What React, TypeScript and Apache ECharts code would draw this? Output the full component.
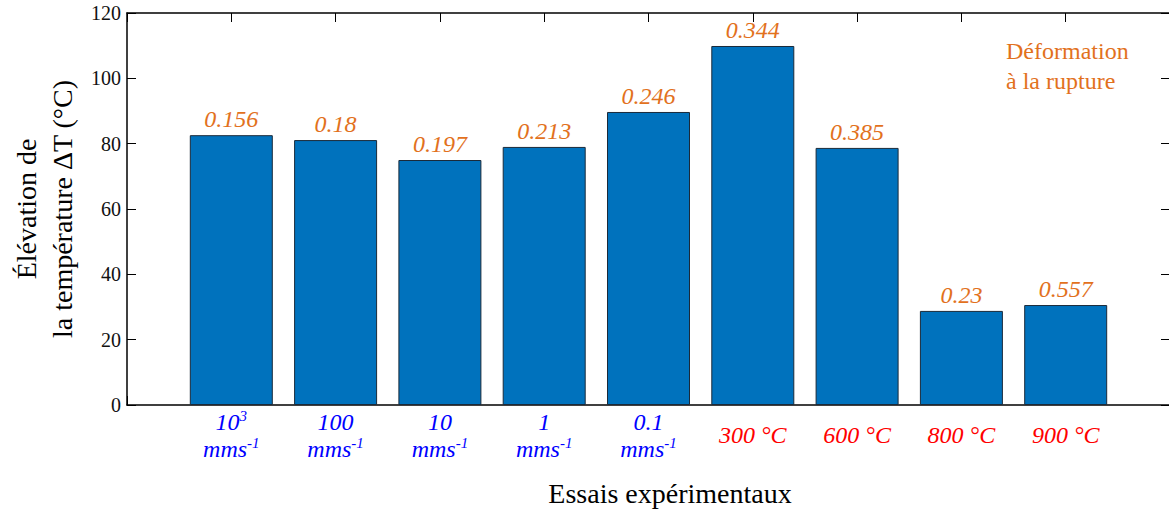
import React, { useEffect, useRef } from "react";
import * as echarts from "echarts";

const positions = [1, 2, 3, 4, 5, 6, 7, 8, 9];
const deltaT = [82.6, 81.1, 75.0, 79.0, 89.7, 109.9, 78.7, 28.8, 30.6];
const strainAtRupture = ["0.156", "0.18", "0.197", "0.213", "0.246", "0.344", "0.385", "0.23", "0.557"];
const speedLabels = ["10", "100", "10", "1", "0.1"];
const speedExponent = ["3", "", "", "", ""];
const tempLabels = ["300 °C", "600 °C", "800 °C", "900 °C"];
const yTicks = { min: 0, max: 120, interval: 20 };

const FONT = "Liberation Serif";
const ORANGE = "#E2711D";

const boxAxis = {
  splitLine: { show: false },
  axisLine: { show: true, onZero: false, lineStyle: { color: "#000", width: 1.5 } },
  axisTick: { show: true, inside: true, length: 9, lineStyle: { color: "#000" } },
};

export default function App() {
  const ref = useRef<HTMLDivElement>(null);
  useEffect(() => {
    document.body.style.margin = "0";
    const chart = echarts.init(ref.current!, null, { renderer: "svg" });
    const xLabel = (v: number) => {
      const i = Math.round(v) - 1;
      if (i < 0 || i > 8) return "";
      if (i < speedLabels.length) {
        const top = speedExponent[i]
          ? `{b|${speedLabels[i]}}{bs|${speedExponent[i]}}`
          : `{b|${speedLabels[i]}}`;
        return `${top}\n{b|mms}{bs|-1}`;
      }
      return `{r|${tempLabels[i - speedLabels.length]}}`;
    };
    chart.setOption({
      animation: false,
      textStyle: { fontFamily: FONT },
      grid: { left: 127, right: -1, top: 13, bottom: 111, containLabel: false, outerBoundsMode: "none" },
      xAxis: [
        {
          type: "value",
          min: 0,
          max: 10,
          interval: 1,
          position: "bottom",
          ...boxAxis,
          axisLabel: {
            formatter: xLabel,
            margin: 30,
            verticalAlign: "middle",
            rich: {
              b: { color: "#0000FF", fontStyle: "italic", fontSize: 24, fontFamily: FONT, lineHeight: 27 },
              bs: { color: "#0000FF", fontStyle: "italic", fontSize: 15, fontFamily: FONT, verticalAlign: "top", lineHeight: 27 },
              r: { color: "#FF0000", fontStyle: "italic", fontSize: 24, fontFamily: FONT, lineHeight: 27 },
            },
          },
        },
        {
          type: "value",
          min: 0,
          max: 10,
          interval: 1,
          position: "top",
          ...boxAxis,
          axisLabel: { show: false },
        },
      ],
      yAxis: [
        {
          type: "value",
          min: yTicks.min,
          max: yTicks.max,
          interval: yTicks.interval,
          position: "left",
          ...boxAxis,
          axisLabel: { color: "#111", fontSize: 20, fontFamily: FONT, margin: 6 },
          name: "Élévation de\nla température ΔT (°C)",
          nameLocation: "middle",
          nameRotate: 90,
          nameGap: 43,
          nameTextStyle: { color: "#000", fontSize: 28, fontFamily: FONT, lineHeight: 36 },
        },
        {
          type: "value",
          min: yTicks.min,
          max: yTicks.max,
          interval: yTicks.interval,
          position: "right",
          ...boxAxis,
          axisLabel: { show: false },
        },
      ],
      series: [
        {
          type: "bar",
          xAxisIndex: 0,
          yAxisIndex: 0,
          barWidth: 83,
          data: positions.map((p, i) => [p, deltaT[i]]),
          itemStyle: { color: "#0072BD", borderColor: "#1a2a3a", borderWidth: 1 },
          label: {
            show: true,
            position: "top",
            distance: 4,
            formatter: (p: any) => strainAtRupture[p.dataIndex],
            color: ORANGE,
            fontStyle: "italic",
            fontSize: 24,
            fontFamily: FONT,
          },
        },
      ],
      graphic: [
        {
          type: "text",
          left: 1006,
          top: 36,
          style: {
            text: "Déformation\nà la rupture",
            fill: ORANGE,
            fontSize: 24,
            fontFamily: FONT,
            lineHeight: 30,
          },
        },
        {
          type: "text",
          x: 670,
          y: 493,
          style: {
            text: "Essais expérimentaux",
            fill: "#000",
            fontSize: 28,
            fontFamily: FONT,
            align: "center",
            verticalAlign: "middle",
          },
        },
      ],
    });
    return () => chart.dispose();
  }, []);
  return <div ref={ref} style={{ width: 1169, height: 516 }} />;
}
